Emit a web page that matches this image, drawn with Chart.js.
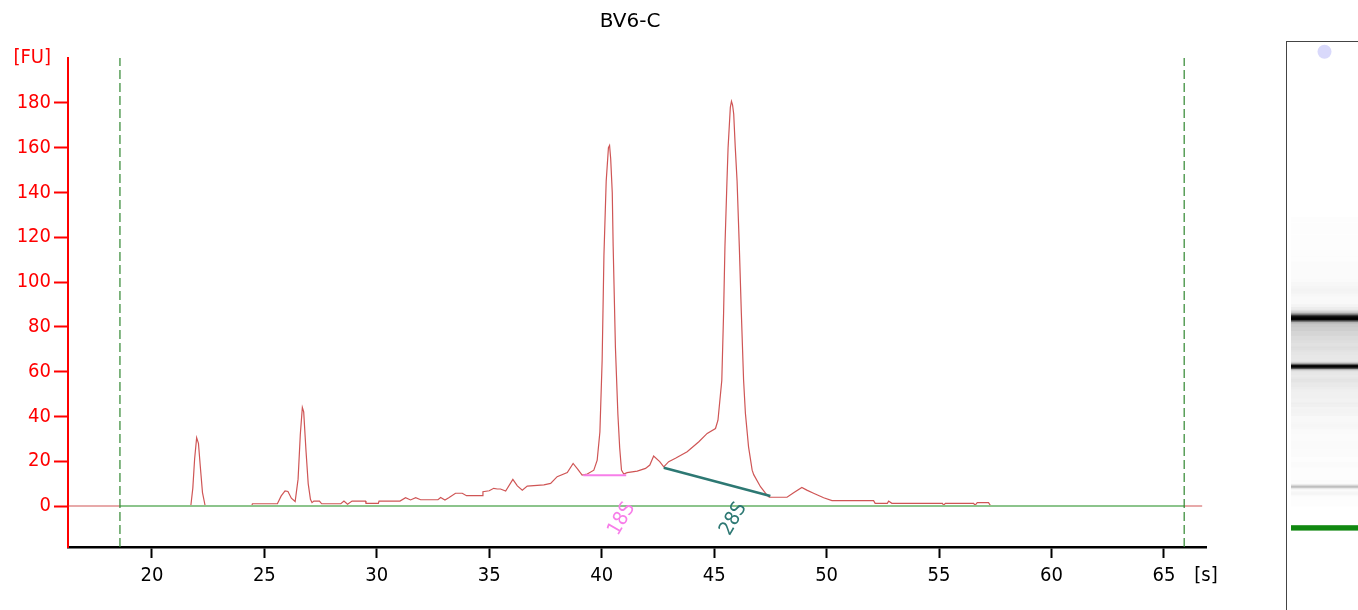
<!DOCTYPE html>
<html lang="en">
<head>
<meta charset="UTF-8">
<title>BV6-C</title>
<script src="https://cdn.jsdelivr.net/npm/chart.js"></script>
<style>
  body { margin:0; background:#fff; width:1358px; height:610px; overflow:hidden; position:relative; }
  #plotBox { position:absolute; left:0; top:0; width:1260px; height:610px; }
  #gelBox { position:absolute; left:1286px; top:41px; width:90px; height:600px; border:1px solid #444; background:#fff; }
  #gelInner { position:absolute; left:4px; top:0; width:67px; height:568px; }
</style>
</head>
<body>
<div id="plotBox"><canvas id="plot"></canvas></div>
<div id="gelBox"><div id="gelInner"><canvas id="gel"></canvas></div></div>
<script>
// electropherogram trace, migration time [s] vs fluorescence [FU]
const traceTime = [16.3, 21.73, 21.82, 21.9, 21.99, 22.07, 22.15, 22.25, 22.37, 24.44,
  24.47, 25.58, 25.75, 25.92, 26.05, 26.2, 26.37, 26.5, 26.6, 26.69,
  26.75, 26.85, 26.95, 27.05, 27.12, 27.2, 27.45, 27.55, 28.4, 28.54,
  28.7, 28.9, 29.5, 29.52, 30.07, 30.1, 31.03, 31.28, 31.5, 31.73,
  31.95, 32.72, 32.84, 33.03, 33.2, 33.5, 33.8, 33.99, 34.69, 34.72,
  35.0, 35.2, 35.36, 35.5, 35.73, 36.05, 36.25, 36.47, 36.69, 37.43,
  37.73, 38.02, 38.47, 38.73, 38.94, 39.13, 39.36, 39.65, 39.8, 39.92,
  40.02, 40.1, 40.2, 40.3, 40.35, 40.4, 40.47, 40.51, 40.61, 40.72,
  40.8, 40.88, 40.98, 41.13, 41.58, 41.95, 42.14, 42.31, 42.58, 42.76,
  42.98, 43.28, 43.8, 44.32, 44.69, 45.06, 45.17, 45.2, 45.34, 45.42,
  45.48, 45.57, 45.62, 45.72, 45.77, 45.82, 45.87, 45.94, 46.02, 46.12,
  46.21, 46.31, 46.39, 46.53, 46.69, 46.76, 47.06, 47.35, 47.45, 48.24,
  48.55, 48.9, 49.12, 49.42, 49.87, 50.24, 52.09, 52.16, 52.7, 52.76,
  52.9, 55.15, 55.2, 55.28, 56.54, 56.6, 56.7, 57.2, 57.3, 66.7];
const traceFU = [0, 0, 8, 21, 30.5, 28, 18, 6, 0, 0,
  1, 1, 4.5, 6.7, 6.5, 3.5, 2, 12, 32, 44,
  42, 25, 10, 3, 1.5, 2.2, 2.2, 1, 1, 2.2,
  0.8, 2.2, 2.2, 1.2, 1.2, 2.2, 2.2, 3.7, 2.7, 3.7,
  2.8, 2.8, 3.8, 2.7, 3.7, 5.7, 5.7, 4.6, 4.6, 6.4,
  6.8, 7.9, 7.6, 7.6, 6.7, 11.9, 9, 7.1, 8.9, 9.4,
  10.1, 13.1, 14.9, 19, 16.4, 13.8, 14.3, 16, 20.5, 33,
  65, 112, 145, 160, 161, 155, 140, 116, 71, 41,
  26, 16, 14.3, 14.9, 15.6, 16.8, 18.3, 22.3, 19.8, 17.5,
  19.8, 21.3, 24.2, 28.7, 32.4, 34.6, 38.3, 41.4, 56, 86,
  115.6, 145, 160, 178, 180.7, 179, 175, 160, 145, 115.6,
  86, 56, 41.4, 26.4, 16, 14, 8.6, 4.9, 3.9, 3.9,
  6, 8.3, 7.1, 5.7, 3.7, 2.4, 2.4, 1.2, 1.2, 2.2,
  1.2, 1.2, 0.3, 1.2, 1.2, 0.3, 1.5, 1.5, 0, 0];

const xTickValues = [20, 25, 30, 35, 40, 45, 50, 55, 60, 65];
const yTickValues = [0, 20, 40, 60, 80, 100, 120, 140, 160, 180];
const xMin = 16.27, xMax = 66.87;
const yMin = -18.3, yMax = 200;

// analysis window (dashed) and peak baselines
const windowTimes = [18.58, 65.9];
const peakNames = ['18S', '28S'];
const peakBaseTimes = [[39.18, 41.09], [42.76, 47.5]];
const peakBaseFU = [[13.7, 13.7], [17.1, 4.5]];
const peakLabelTimes = [40.9, 45.86];
const peakLabelFU = -5.8;

// gel lane
const markerEnd = 23;       // lower marker, shown green
const flagTime = 75.9;
const gelMin = 12.72, gelMax = 77.0;

const peakColors = ['#f77ee9', '#2d7873'];
const red = '#ff0000';
const fontFamily = "'DejaVu Sans Condensed', 'DejaVu Sans', sans-serif";

Chart.defaults.font.family = fontFamily;

const traceData = traceTime.map((t, i) => ({ x: t, y: traceFU[i] }));

const datasets = [
  { data: traceData, borderColor: '#cf5555', borderWidth: 1.2, pointRadius: 0, tension: 0, order: 5 },
  { data: [{ x: windowTimes[0], y: 0 }, { x: windowTimes[1], y: 0 }], borderColor: '#8cc48c', borderWidth: 2, pointRadius: 0, order: 4 }
];
windowTimes.forEach(t => {
  datasets.push({ data: [{ x: t, y: yMin }, { x: t, y: yMax }], borderColor: '#2f862f', borderWidth: 1.2, borderDash: [9, 4], pointRadius: 0, order: 3 });
});
peakNames.forEach((n, i) => {
  datasets.push({
    data: peakBaseTimes[i].map((t, j) => ({ x: t, y: peakBaseFU[i][j] })),
    borderColor: peakColors[i], borderWidth: i === 0 ? 2 : 2.5, pointRadius: 0, order: 1
  });
});

const peakLabels = {
  id: 'peakLabels',
  afterDatasetsDraw(chart) {
    const { ctx, scales: { x, y } } = chart;
    ctx.save();
    ctx.font = '20px ' + fontFamily;
    ctx.textAlign = 'center';
    ctx.textBaseline = 'middle';
    peakNames.forEach((n, i) => {
      ctx.save();
      ctx.translate(x.getPixelForValue(peakLabelTimes[i]), y.getPixelForValue(peakLabelFU));
      ctx.rotate(-Math.PI / 3);
      ctx.fillStyle = peakColors[i];
      ctx.fillText(n, 0, 0);
      ctx.restore();
    });
    ctx.restore();
  }
};

new Chart(document.getElementById('plot'), {
  type: 'line',
  data: { datasets },
  plugins: [peakLabels],
  options: {
    animation: false,
    responsive: true,
    maintainAspectRatio: false,
    layout: { padding: 0, autoPadding: false },
    plugins: {
      legend: { display: false },
      tooltip: { enabled: false },
      title: {
        display: true, text: 'BV6-C', color: '#000',
        font: { family: "'DejaVu Sans', sans-serif", size: 20, weight: 'normal', lineHeight: 1.2 },
        padding: { top: 10, bottom: 24 }
      }
    },
    scales: {
      x: {
        type: 'linear', position: 'bottom', min: xMin, max: xMax,
        afterBuildTicks: s => { s.ticks = xTickValues.concat([xMax]).map(v => ({ value: v })); },
        afterFit: s => { s.height = 63; },
        ticks: {
          color: '#000', font: { size: 20 }, padding: 6, autoSkip: false, maxRotation: 0,
          callback: v => v === xMax ? '[s]' : v
        },
        grid: {
          drawOnChartArea: false, tickLength: 11, tickWidth: 2,
          tickColor: c => (c.tick && c.tick.value === xMax) ? 'rgba(0,0,0,0)' : '#000'
        },
        border: { color: '#000', width: 2.5 }
      },
      y: {
        type: 'linear', position: 'left', min: yMin, max: yMax,
        afterBuildTicks: s => { s.ticks = yTickValues.concat([yMax]).map(v => ({ value: v })); },
        afterFit: s => { s.width = 68; },
        ticks: {
          color: red, font: { size: 20 }, padding: 3, autoSkip: false,
          callback: v => v === yMax ? '[FU]' : v
        },
        grid: {
          drawOnChartArea: false, tickLength: 14, tickWidth: 2,
          tickColor: c => (c.tick && c.tick.value === yMax) ? 'rgba(0,0,0,0)' : red
        },
        border: { color: red, width: 2 }
      },
      yRight: {
        type: 'linear', position: 'right', display: true,
        ticks: { display: false }, grid: { display: false }, border: { display: false },
        afterFit: s => { s.width = 54; }
      }
    }
  }
});

// gel-like lane built from the same trace
const gelBars = [];
for (let i = 0; i < traceTime.length - 1; i++) {
  gelBars.push({ x: 'lane', y: [traceTime[i], traceTime[i + 1]], v: (traceFU[i] + traceFU[i + 1]) / 2 });
}
function shade(raw) {
  if (!raw) return '#fff';
  if (raw.y[1] <= markerEnd) return 'rgba(17,136,17,' + Math.min(1, raw.v / 5) + ')';
  const g = Math.round(255 - Math.min(255, raw.v * 1.6));
  return 'rgb(' + g + ',' + g + ',' + g + ')';
}

new Chart(document.getElementById('gel'), {
  type: 'bar',
  data: {
    labels: ['lane'],
    datasets: [
      { data: gelBars, backgroundColor: c => shade(c.raw), borderWidth: 0, grouped: false,
        barThickness: 80, order: 2 },
      { type: 'line', data: [{ x: 'lane', y: flagTime }], showLine: false, pointRadius: 7,
        pointBackgroundColor: '#d9d9fb', pointBorderWidth: 0, order: 1 }
    ]
  },
  options: {
    animation: false,
    responsive: true,
    maintainAspectRatio: false,
    layout: { padding: 0, autoPadding: false },
    plugins: { legend: { display: false }, tooltip: { enabled: false } },
    scales: {
      x: { display: false },
      y: { display: false, min: gelMin, max: gelMax }
    }
  }
});
</script>
</body>
</html>
